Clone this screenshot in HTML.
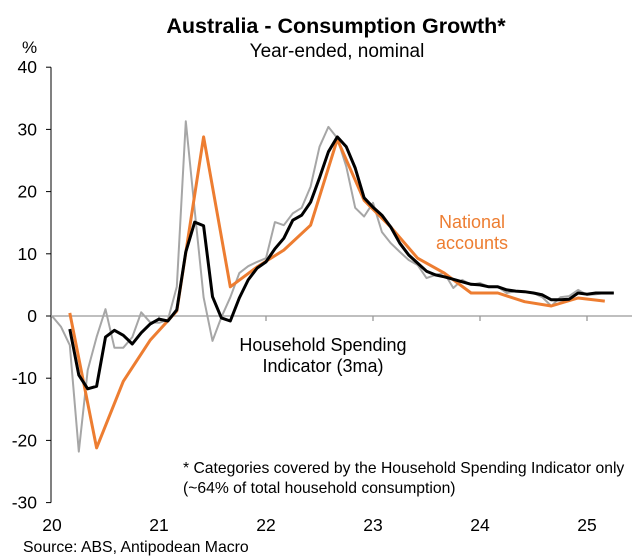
<!DOCTYPE html>
<html><head><meta charset="utf-8"><style>
body{margin:0;background:#fff;}
svg{display:block;font-family:"Liberation Sans",Arial,sans-serif;}
</style></head><body>
<svg id="chart" width="636" height="559">
<text x="336" y="33" text-anchor="middle" font-size="21.5" font-weight="bold" fill="#000">Australia - Consumption Growth*</text>
<text x="337" y="57" text-anchor="middle" font-size="19" fill="#000">Year-ended, nominal</text>
<text x="22" y="53" font-size="17" fill="#000">%</text>
<g id="yaxis"></g>
<g id="xaxis"></g>
<g id="series"></g>
<text x="472" y="228" text-anchor="middle" font-size="18" fill="#ED7D31">National</text>
<text x="472" y="249" text-anchor="middle" font-size="18" fill="#ED7D31">accounts</text>
<text x="323" y="351" text-anchor="middle" font-size="18" fill="#000">Household Spending</text>
<text x="323" y="372" text-anchor="middle" font-size="18" fill="#000">Indicator (3ma)</text>
<text x="183" y="473" font-size="15.7" fill="#000">* Categories covered by the Household Spending Indicator only</text>
<text x="183" y="493" font-size="15.7" fill="#000">(~64% of total household consumption)</text>
<text x="23" y="552" font-size="15.8" fill="#000">Source: ABS, Antipodean Macro</text>
</svg>
<script>
const yTicks=[40,30,20,10,0,-10,-20,-30];
const xYears=[20,21,22,23,24,25];
const hsiMonthly=[0,-1.7,-4.7,-21.8,-8.7,-3.4,1.1,-5.1,-5.1,-3.4,0.6,-1,-1.1,-0.6,4.7,31.3,17,3,-4,-0.2,3,6.9,8,8.7,9.3,15.1,14.6,16.5,17.4,20.8,27.2,30.4,28.6,24,17.4,16,18.2,13.5,11.7,10.3,9,8.2,6.1,6.6,6.9,4.5,5.8,5,5.3,4.7,4.7,3.7,4,3.9,3.7,3,1.6,3,3.2,4.2,3.4,3.5,3.7,3.7];
const hsi3ma=[null,null,-2.1,-9.5,-11.7,-11.3,-3.4,-2.3,-3.1,-4.5,-2.7,-1.3,-0.5,-0.8,1,10.3,15.1,14.5,3.1,-0.3,-0.8,2.9,5.8,7.7,8.7,10.8,12.5,15.4,16.2,18.3,22.2,26.4,28.8,27.2,23.8,19,17.5,16.2,14.3,11.7,9.8,8.5,7.2,6.6,6.3,5.9,5.5,5.1,5,4.7,4.7,4.2,4,3.9,3.7,3.4,2.6,2.6,2.7,3.7,3.5,3.7,3.7,3.7];
const natAccounts=[0.5,-21.2,-10.5,-3.9,0.8,28.8,4.7,7.9,10.6,14.6,28.4,18.6,14.3,9.3,6.9,3.7,3.7,2.3,1.6,2.9,2.4];
const natStartMonth=2;
const NS='http://www.w3.org/2000/svg';
const X0=52,YEARW=107,Y0=316,PER10=62.2;
function xs(m){return X0+m*YEARW/12;}
function ys(v){return Y0-v*PER10/10;}
function mk(tag,attrs,parent){const e=document.createElementNS(NS,tag);for(const k in attrs)e.setAttribute(k,attrs[k]);parent.appendChild(e);return e;}
const yg=document.getElementById('yaxis'),xg=document.getElementById('xaxis'),sg=document.getElementById('series');
const ax=mk('line',{x1:51,y1:ys(40),x2:51,y2:ys(-30),stroke:'#000','stroke-width':1},yg);


yTicks.forEach(v=>{
 const t=mk('line',{x1:46,x2:51,y1:ys(v),y2:ys(v),stroke:'#000'},yg);
 
 
 const l=mk('text',{x:37,y:ys(v)+6,'text-anchor':'end','font-size':17.5},yg);
 l.textContent=v;
 
 
});
const zl=mk('line',{x1:51,x2:632,y1:Y0,y2:Y0,stroke:'#999','stroke-width':1.3},xg);


xYears.forEach((yr,i)=>{
 const x=xs(i*12);
 if(i>0){const t=mk('line',{x1:x,x2:x,y1:Y0,y2:Y0+5,stroke:'#999','stroke-width':1.3},xg);
 
 }
 const l=mk('text',{x:x,y:531,'text-anchor':'middle','font-size':17.5},xg);
 l.textContent=yr;
 
 
});
function path(vals,start,step){let d='';let pen=false;vals.forEach((v,i)=>{if(v===null){pen=false;return;}d+=(pen?'L':'M')+xs(start+i*step).toFixed(1)+','+ys(v).toFixed(1);pen=true;});return d;}
const p1=mk('path',{d:path(hsiMonthly,0,1),fill:'none',stroke:'#A6A6A6','stroke-width':2,'stroke-linejoin':'round'},sg);


const p2=mk('path',{d:path(natAccounts,natStartMonth,3),fill:'none',stroke:'#ED7D31','stroke-width':3,'stroke-linejoin':'round'},sg);


const p3=mk('path',{d:path(hsi3ma,0,1),fill:'none',stroke:'#000','stroke-width':3,'stroke-linejoin':'round'},sg);


</script>
</body></html>
